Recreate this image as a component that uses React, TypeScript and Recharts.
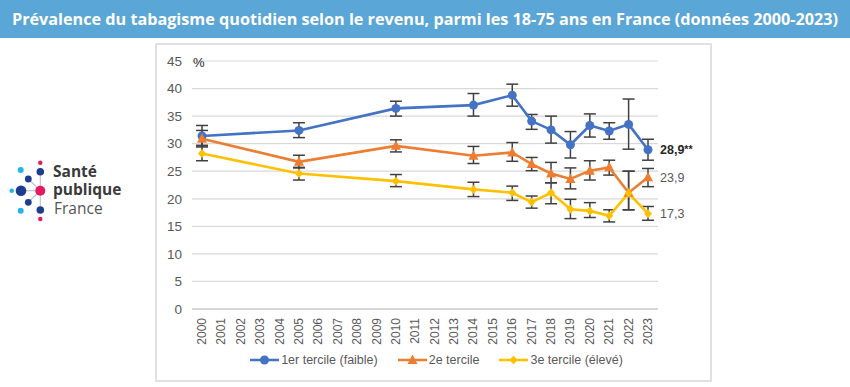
import React from 'react';
import { LineChart, Line, XAxis, YAxis, CartesianGrid, ErrorBar, Legend } from 'recharts';

// all x-axis categories (one per year)
const yearLabels = [
  '2000', '2001', '2002', '2003', '2004', '2005', '2006', '2007', '2008', '2009', '2010', '2011',
  '2012', '2013', '2014', '2015', '2016', '2017', '2018', '2019', '2020', '2021', '2022', '2023',
];

// years with a survey value
const surveyYears = ['2000', '2005', '2010', '2014', '2016', '2017', '2018', '2019', '2020', '2021', '2022', '2023'];

const tercile1 = [31.4, 32.4, 36.4, 37.0, 38.8, 34.1, 32.5, 29.8, 33.3, 32.3, 33.5, 28.9];
const tercile1Low = [29.7, 31.1, 35.0, 35.0, 36.8, 32.6, 30.1, 27.4, 31.2, 30.8, 29.0, 27.0];
const tercile1High = [33.3, 33.8, 37.7, 39.1, 40.8, 35.3, 35.0, 32.2, 35.4, 33.8, 38.1, 30.8];

const tercile2 = [30.9, 26.7, 29.6, 27.8, 28.4, 26.3, 24.6, 23.6, 25.1, 25.7, 21.1, 23.9];
const tercile2Low = [29.4, 25.6, 28.5, 26.4, 26.8, 25.1, 22.9, 21.8, 23.4, 24.3, 18.0, 22.2];
const tercile2High = [32.4, 27.9, 30.7, 29.5, 30.2, 27.5, 26.6, 25.6, 26.9, 27.0, 25.0, 25.5];

const tercile3 = [28.2, 24.6, 23.2, 21.7, 21.1, 19.4, 21.1, 18.1, 17.8, 16.9, 21.0, 17.3];
const tercile3Low = [26.9, 23.4, 22.2, 20.4, 19.7, 18.3, 19.1, 16.4, 16.6, 15.8, 18.0, 16.1];
const tercile3High = [29.6, 25.7, 24.4, 23.0, 22.3, 20.5, 22.9, 19.9, 19.3, 18.0, 25.0, 18.6];

const seriesNames = ['1er tercile (faible)', '2e tercile', '3e tercile (élevé)'];
const endSuffix = ['**', '', ''];

const yTicks = [0, 5, 10, 15, 20, 25, 30, 35, 40, 45];

const BLUE = '#4472C4';
const ORANGE = '#ED7D31';
const YELLOW = '#FFC000';
const ERR = '#404040';
const AXIS_FONT = '"Liberation Sans", Arial, sans-serif';

const errPair = (v: number, lo: number, hi: number) => [+(v - lo).toFixed(2), +(hi - v).toFixed(2)];

const rows = yearLabels.map((year) => {
  const i = surveyYears.indexOf(year);
  if (i < 0) return { year, t1: null, t2: null, t3: null };
  return {
    year,
    t1: tercile1[i],
    e1: errPair(tercile1[i], tercile1Low[i], tercile1High[i]),
    t2: tercile2[i],
    e2: errPair(tercile2[i], tercile2Low[i], tercile2High[i]),
    t3: tercile3[i],
    e3: errPair(tercile3[i], tercile3Low[i], tercile3High[i]),
  };
});

const circleMark = (cx: number, cy: number) => <circle cx={cx} cy={cy} r={4.5} fill={BLUE} />;
const triangleMark = (cx: number, cy: number) => (
  <polygon points={`${cx},${cy - 5.5} ${cx - 5},${cy + 4} ${cx + 5},${cy + 4}`} fill={ORANGE} />
);
const diamondMark = (cx: number, cy: number) => (
  <polygon points={`${cx},${cy - 4.5} ${cx + 4},${cy} ${cx},${cy + 4.5} ${cx - 4},${cy}`} fill={YELLOW} />
);

const markers = [circleMark, triangleMark, diamondMark];
const colors = [BLUE, ORANGE, YELLOW];

const makeDot = (k: number) => (p: any) => {
  if (p.value == null || p.cy == null) return <g key={`d${k}-${p.index}`} />;
  return <g key={`d${k}-${p.index}`}>{markers[k](p.cx, p.cy)}</g>;
};

const makeEndLabel = (k: number) => (p: any) => {
  if (p.index !== yearLabels.length - 1 || p.value == null) return null;
  const txt = Number(p.value).toFixed(1).replace('.', ',');
  return (
    <text
      x={p.x + 12}
      y={p.y}
      dy={4.5}
      fontFamily={AXIS_FONT}
      fontSize={12.5}
      fontWeight={k === 0 ? 700 : 400}
      fill={k === 0 ? '#262626' : '#595959'}
    >
      {txt}
      {endSuffix[k] && <tspan fontSize={10.5} dy={-1}>{endSuffix[k]}</tspan>}
    </text>
  );
};

const YearTick = ({ x, y, payload }: any) => (
  <text
    x={x}
    y={y + 1}
    transform={`rotate(-90 ${x} ${y + 1})`}
    textAnchor="end"
    dominantBaseline="central"
    fontFamily={AXIS_FONT}
    fontSize={12}
    fill="#595959"
  >
    {payload.value}
  </text>
);

const renderLegend = () => (
  <div
    style={{
      display: 'flex',
      justifyContent: 'center',
      alignItems: 'center',
      gap: 20,
      paddingLeft: 6,
      height: 21,
      fontFamily: AXIS_FONT,
      fontSize: 12.5,
      color: '#595959',
    }}
  >
    {seriesNames.map((name, k) => (
      <div key={name} style={{ display: 'flex', alignItems: 'center' }}>
        <svg width={29} height={12}>
          <line x1={0} y1={6} x2={29} y2={6} stroke={colors[k]} strokeWidth={2.5} />
          {markers[k](14.5, 6)}
        </svg>
        <span style={{ marginLeft: 2 }}>{name}</span>
      </div>
    ))}
  </div>
);

const Logo = () => (
  <svg width={130} height={75} style={{ position: 'absolute', left: 0, top: 150 }}>
    <g stroke="#bfc3d3" strokeWidth={1.2}>
      <line x1={40.3} y1={21.7} x2={40.3} y2={60} />
      <line x1={21} y1={40.7} x2={40.3} y2={40.7} />
      <line x1={28.3} y1={29} x2={40.3} y2={40.7} />
      <line x1={28.3} y1={52.3} x2={40.3} y2={40.7} />
    </g>
    <circle cx={40.3} cy={12.7} r={2.2} fill="#e5195e" />
    <circle cx={40.3} cy={21.7} r={3.8} fill="#1f3d8f" />
    <circle cx={20.7} cy={20} r={3} fill="#25b4e8" />
    <circle cx={28.3} cy={29} r={3.4} fill="#1f3d8f" />
    <circle cx={21} cy={40.7} r={5.3} fill="#1f3d8f" />
    <circle cx={11.7} cy={40.7} r={2.3} fill="#25b4e8" />
    <circle cx={40.3} cy={40.7} r={5} fill="#e5195e" />
    <circle cx={28.3} cy={52.3} r={3.4} fill="#1f3d8f" />
    <circle cx={20.7} cy={60.7} r={3} fill="#25b4e8" />
    <circle cx={40.3} cy={60} r={3.8} fill="#1f3d8f" />
    <circle cx={40.3} cy={69} r={2.2} fill="#e5195e" />
    <g fontFamily='"Open Sans", sans-serif' fill="#3a3a3a">
      <text x={53} y={26.5} fontSize={15.5} fontWeight={700}>Santé</text>
      <text x={53} y={45} fontSize={15.5} fontWeight={700}>publique</text>
      <text x={54} y={64} fontSize={15.5} fontWeight={400} fill="#555">France</text>
    </g>
  </svg>
);

export default function App() {
  return (
    <div style={{ position: 'absolute', left: 0, top: 0, width: 850, height: 387, background: '#fff', overflow: 'hidden' }}>
      <svg width={850} height={38} style={{ position: 'absolute', left: 0, top: 0 }}>
        <rect x={0} y={0} width={850} height={38} fill="#5aa6d6" />
        <text
          x={12}
          y={24.5}
          textLength={826}
          lengthAdjust="spacingAndGlyphs"
          fontFamily='"Open Sans", sans-serif'
          fontWeight={700}
          fontSize={16}
          fill="#ffffff"
        >
          Prévalence du tabagisme quotidien selon le revenu, parmi les 18-75 ans en France (données 2000-2023)
        </text>
      </svg>

      <Logo />

      <div
        style={{
          position: 'absolute',
          left: 155,
          top: 43,
          width: 557,
          height: 339,
          border: '2px solid #e1e1e1',
          boxSizing: 'border-box',
        }}
      >
        <LineChart width={553} height={335} data={rows} margin={{ top: 16, right: 52, left: 0, bottom: 12 }}>
          <CartesianGrid vertical={false} stroke="#d9d9d9" strokeWidth={1.2} />
          <XAxis
            dataKey="year"
            interval={0}
            padding={{ left: 10, right: 10 }}
            height={38}
            tickLine={false}
            axisLine={{ stroke: '#cfcfcf', strokeWidth: 1.5 }}
            tick={<YearTick />}
          />
          <YAxis
            width={35}
            domain={[0, 45]}
            ticks={yTicks}
            tickLine={false}
            axisLine={false}
            tickMargin={4}
            tick={{ fill: '#595959', fontSize: 13.5, fontFamily: AXIS_FONT }}
            label={{
              value: '%',
              content: (p: any) => (
                <text
                  x={p.viewBox.x + p.viewBox.width + 1}
                  y={p.viewBox.y + 6}
                  fontFamily={AXIS_FONT}
                  fontSize={13}
                  fill="#262626"
                >
                  %
                </text>
              ),
            }}
          />
          <Legend
            verticalAlign="bottom"
            content={renderLegend}
            wrapperStyle={{ left: 0, width: 553, bottom: 10 }}
          />
          {(['t1', 't2', 't3'] as const).map((key, k) => (
            <Line
              key={key}
              dataKey={key}
              name={seriesNames[k]}
              stroke={colors[k]}
              strokeWidth={2.6}
              connectNulls
              isAnimationActive={false}
              dot={makeDot(k)}
              activeDot={false}
              label={makeEndLabel(k)}
            >
              <ErrorBar dataKey={`e${k + 1}`} width={6} stroke={ERR} strokeWidth={1.5} direction="y" />
            </Line>
          ))}
        </LineChart>
      </div>
    </div>
  );
}
